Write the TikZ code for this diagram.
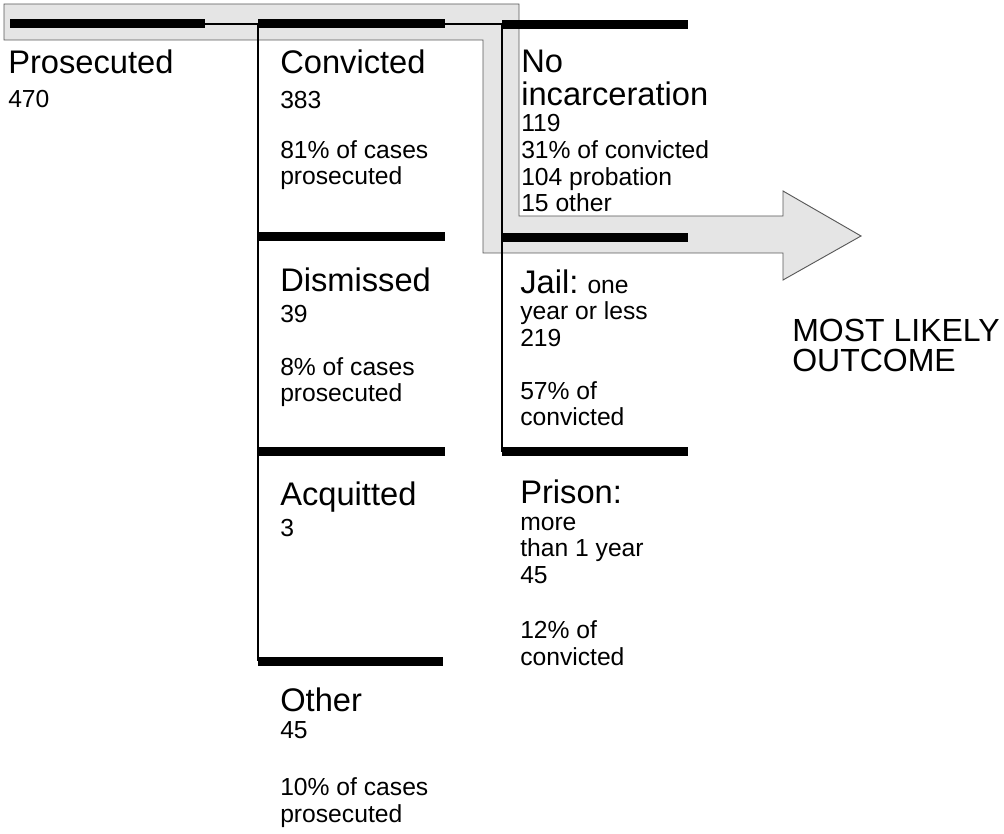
\documentclass[tikz,border=0pt]{standalone}
\usepackage{fontspec}
\setmainfont{Liberation Sans}
\newcommand{\ttlsize}{\fontsize{24.5}{25}\selectfont}
\newcommand{\txtsize}{\fontsize{18.5}{20}\selectfont}

\begin{document}
\begin{tikzpicture}[x=0.75pt, y=-0.75pt,
    lbl/.style={anchor=base west, inner sep=0pt, align=left, font=\txtsize},
    bar/.style={line width=6.75pt},
    rule/.style={line width=1.1pt},
    band/.style={fill=black!10, draw=black!65, line width=0.7pt}]

      \useasboundingbox (0,0) rectangle (1004,834);

      \filldraw[band] (4,4) -- (519,4) -- (519,216) -- (783,216) -- (783,191) -- (861,236)
      -- (783,280) -- (783,253) -- (483,253) -- (483,40) -- (4,40) -- cycle;

      \draw[rule] (205,24) -- (502,24);
      \draw[rule] (258,24) -- (258,661);
      \draw[rule] (502,24) -- (502,452);

      \draw[bar] (10,24) -- (205,24);
      \draw[bar] (258,24) -- (445,24);
      \draw[bar] (502,25) -- (688,25);
      \draw[bar] (258,237) -- (445,237);
      \draw[bar] (502,238) -- (688,238);
      \draw[bar] (258,452) -- (445,452);
      \draw[bar] (502,452) -- (688,452);
      \draw[bar] (258,661) -- (443,661);

      % anchors sit on the last line of each block
      \node[lbl] (pros) at (8,108) {{\ttlsize Prosecuted}\\[6.2pt] 470};
      \node[lbl] (conv) at (280,185) {{\ttlsize Convicted}\\[6.2pt] 383\\[17.5pt] 81\% of cases\\ prosecuted};
      \node[lbl] (noinc) at (521,212) {{\ttlsize No}\\[4.7pt] {\ttlsize incarceration}\\ 119\\ 31\% of convicted\\ 104 probation\\ 15 other};
      \node[lbl] (dism) at (280,402) {{\ttlsize Dismissed}\\[3.2pt] 39\\[19.7pt] 8\% of cases\\ prosecuted};
      \node[lbl] (jail) at (520,426) {{\ttlsize Jail:} one\\ year or less\\ 219\\[19.7pt] 57\% of\\ convicted};
      \node[lbl] (acq) at (280,537) {{\ttlsize Acquitted}\\[4pt] 3};
      \node[lbl] (pris) at (520,665) {{\ttlsize Prison:}\\ more\\ than 1 year\\ 45\\[21.2pt] 12\% of\\ convicted};
      \node[lbl] (oth) at (280,822) {{\ttlsize Other}\\ 45\\[22.7pt] 10\% of cases\\ prosecuted};
      \node[lbl, font=\fontsize{24}{22.5}\selectfont] (outc) at (792,372) {MOST LIKELY\\ OUTCOME};
    \end{tikzpicture}
\end{document}
